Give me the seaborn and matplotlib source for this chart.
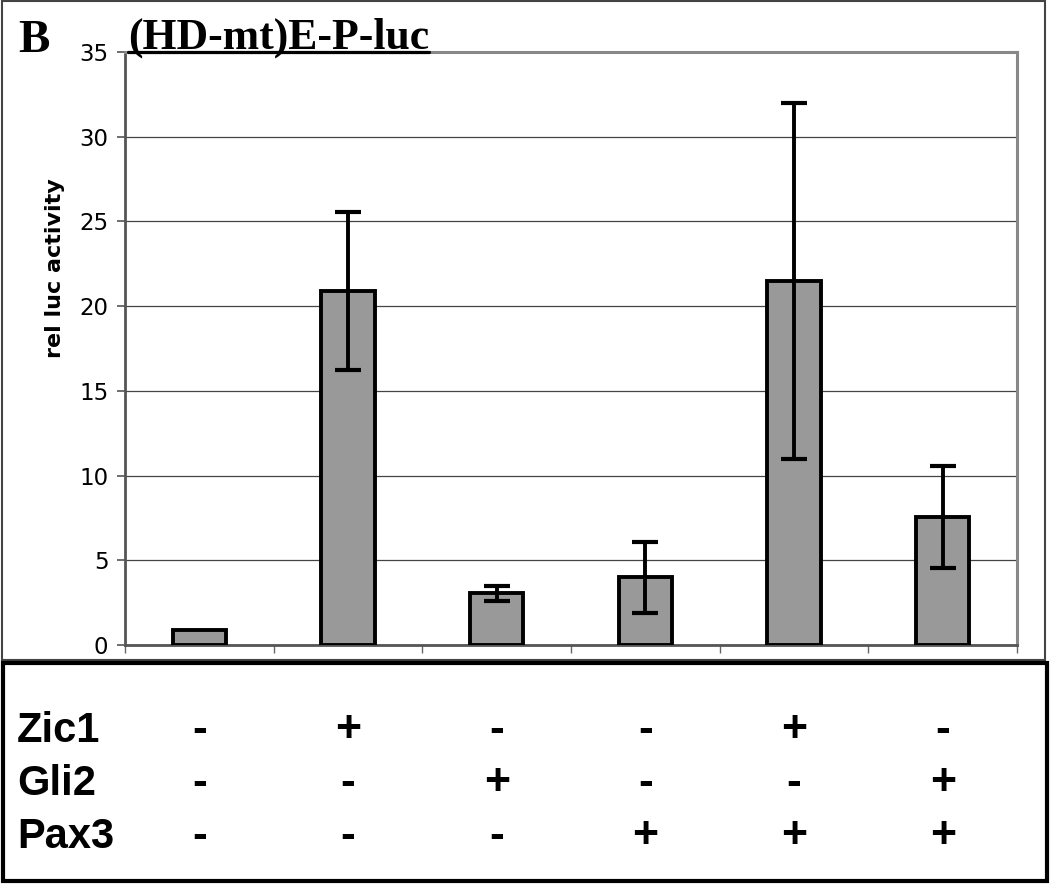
import matplotlib
matplotlib.use("Agg")
import matplotlib.pyplot as plt
import matplotlib.transforms as mtransforms
from matplotlib.patches import Rectangle
from matplotlib.lines import Line2D
import pandas as pd
import seaborn as sns

# data
conditions = ["control", "Zic1", "Gli2", "Pax3", "Zic1+Pax3", "Gli2+Pax3"]
activity = [0.9, 20.9, 3.05, 4.0, 21.5, 7.55]
sem = [0.0, 4.65, 0.46, 2.1, 10.5, 3.0]
y_ticks = [0, 5, 10, 15, 20, 25, 30, 35]

row_names = ["Zic1", "Gli2", "Pax3"]
zic1 = ["-", "+", "-", "-", "+", "-"]
gli2 = ["-", "-", "+", "-", "-", "+"]
pax3 = ["-", "-", "-", "+", "+", "+"]
rows = [zic1, gli2, pax3]

W, H = 1050, 885

sns.set_style("white", {"text.color": "black", "axes.labelcolor": "black",
                        "xtick.color": "black", "ytick.color": "black"})
fig = plt.figure(figsize=(W / 100, H / 100), dpi=100)
ax = fig.add_axes([125 / W, 1 - 645 / H, (1017 - 125) / W, (645 - 52) / H])

df = pd.DataFrame({"condition": conditions, "activity": activity})
sns.barplot(data=df, x="condition", y="activity", ax=ax, color="#999999",
            saturation=1, width=0.36, edgecolor="black", linewidth=2.8,
            errorbar=None, zorder=3)

# error bars (first bar has none)
idx = [i for i, e in enumerate(sem) if e > 0]
ax.errorbar(idx, [activity[i] for i in idx], yerr=[sem[i] for i in idx],
            fmt="none", ecolor="black", elinewidth=2.8, capsize=9.5,
            capthick=3, zorder=4)

ax.set_xlim(-0.5, len(conditions) - 0.5)
ax.set_ylim(0, 35)
ax.set_yticks(y_ticks)
ax.set_xticks([i - 0.5 for i in range(len(conditions) + 1)])
ax.set_xticklabels([])
ax.set_xlabel("")
ax.set_ylabel("rel luc activity", fontsize=16, fontweight="bold", color="black")
ax.yaxis.set_label_coords(-0.067, 0.636)

ax.set_axisbelow(True)
ax.yaxis.grid(True, color="#444444", lw=0.9)
ax.xaxis.grid(False)
ax.tick_params(axis="y", direction="out", length=6, width=1.2, color="#555555",
               labelsize=16.5, labelcolor="black", pad=6, left=True)
ax.tick_params(axis="x", direction="out", length=6, width=1.0, color="#666666",
               bottom=True)
for side in ["left", "bottom"]:
    ax.spines[side].set_color("#555555")
    ax.spines[side].set_linewidth(2.0)
for side in ["top", "right"]:
    ax.spines[side].set_color("#888888")
    ax.spines[side].set_linewidth(2.2)

# panel letter and title
fig.text(18 / W, 1 - 52 / H, "B", family="Liberation Serif", weight="bold",
         fontsize=34, ha="left", va="baseline", color="black")
title = fig.text(128 / W, 1 - 49 / H, "(HD-mt)E-P-luc", family="Liberation Serif",
                 weight="bold", fontsize=31.5, ha="left", va="baseline", color="black")
fig.canvas.draw()
bb = title.get_window_extent().transformed(fig.transFigure.inverted())
fig.add_artist(Line2D([bb.x0, bb.x1], [1 - 51.5 / H] * 2, transform=fig.transFigure,
                      color="black", lw=2.3))

# frames
fig.add_artist(Rectangle((2 / W, 1 - 660 / H), (1045 - 2) / W, (660 - 1) / H,
                         transform=fig.transFigure, fill=False, ec="#444444", lw=1.5))
fig.add_artist(Rectangle((3 / W, 1 - 881 / H), (1047 - 3) / W, (881 - 663) / H,
                         transform=fig.transFigure, fill=False, ec="black", lw=3))

# +/- table under the chart
trans = mtransforms.blended_transform_factory(ax.transData, fig.transFigure)
baselines = [742, 795, 848]
for name, signs, base in zip(row_names, rows, baselines):
    fig.text(17 / W, 1 - base / H, name, family="Liberation Sans", weight="bold",
             fontsize=30, ha="left", va="baseline", color="black")
    for i, s in enumerate(signs):
        ax.text(i, 1 - base / H, s, transform=trans, ha="center", va="baseline",
                family="Liberation Sans", fontweight="bold", fontsize=32,
                color="black", clip_on=False)

fig.savefig("out.png", dpi=100)
